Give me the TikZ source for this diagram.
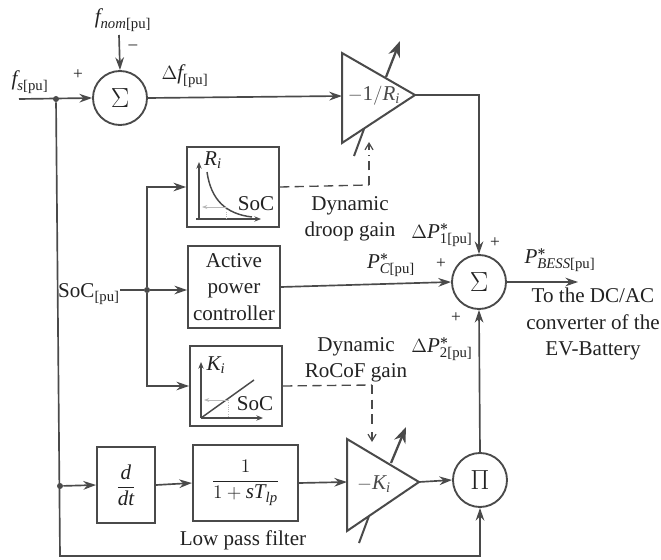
\documentclass[tikz,border=0pt]{standalone}
\usepackage{amsmath}
\usepackage{fontspec}
\setmainfont{Liberation Serif}
\usetikzlibrary{arrows.meta,calc}
\definecolor{ln}{HTML}{4A4A4A}
\definecolor{tx}{HTML}{222222}
\newcommand{\vi}[1]{\textit{#1}}
\newcommand{\pu}{\text{[pu]}}
\tikzset{
 wire/.style={draw=ln,line width=1.25pt},
 flow/.style={wire,-{Stealth[length=9.5pt,width=6.5pt]}},
 gainarrow/.style={wire,line width=1.7pt,-{Stealth[length=12pt,width=9pt]}},
 dashwire/.style={draw=ln,line width=1pt,dash pattern=on 7pt off 4pt},
 openarrow/.style={-{Straight Barb[length=5pt,width=6pt]}},
 blockbox/.style={draw=ln,line width=1.4pt,inner sep=0pt,text=tx,align=center},
 sumnode/.style={draw=ln,line width=1.4pt,circle,minimum size=40.5pt,inner sep=0pt,text=tx,font=\fontsize{20}{22}\selectfont},
 lbl/.style={text=tx,inner sep=0pt,align=center,font=\fontsize{15.8}{19.6}\selectfont},
 sign/.style={text=tx,inner sep=0pt,font=\fontsize{13}{15}\selectfont},
 junction/.style={circle,fill=ln,inner sep=0pt,minimum size=4.5pt},
 mini/.style={draw=ln,line width=.9pt,-{Stealth[length=5pt,width=4pt]}},
 faint/.style={draw=gray!55,line width=.7pt},
}
\begin{document}
\begin{tikzpicture}[x=.75pt,y=-.75pt]
\useasboundingbox (0,0) rectangle (661,560);
% main nodes
\node[sumnode] (s1) at (120,98) {$\Sigma$};
\node[sumnode] (s2) at (479,282) {$\Sigma$};
\node[sumnode] (pi) at (480,480) {$\Pi$};
\node[blockbox,minimum width=69pt,minimum height=60pt] (rbox) at (233,187) {};
\node[blockbox,minimum width=69pt,minimum height=61.5pt,font=\fontsize{15.8}{19.6}\selectfont] (apc) at (234,287) {Active\\power\\controller};
\node[blockbox,minimum width=69pt,minimum height=60pt] (kbox) at (236,386) {};
\node[blockbox,minimum width=43.5pt,minimum height=57pt,font=\fontsize{15.8}{18}\selectfont] (ddt) at (126,485) {$\dfrac{\vi{d}}{\vi{dt}}$};
\node[blockbox,minimum width=79pt,minimum height=57pt,font=\fontsize{15.8}{18}\selectfont] (lpf) at (245.5,483) {$\dfrac{1}{1+\vi{s}\vi{T}_{\vi{lp}}}$};
% triangles
\coordinate (t1a) at (342,53); \coordinate (t1b) at (342,143); \coordinate (t1c) at (415,95);
\coordinate (t1in) at (342,96);
\draw[wire,line width=1.5pt,line join=miter] (t1a)--(t1c)--(t1b)--cycle;
\coordinate (t2a) at (347,439); \coordinate (t2b) at (347,531); \coordinate (t2c) at (419,482);
\coordinate (t2in) at (347,482);
\draw[wire,line width=1.5pt,line join=miter] (t2a)--(t2c)--(t2b)--cycle;
\node[lbl,text=ln] (t1l) at (374,96) {$-\text{1}/\vi{R}_{\vi{i}}$};
\node[lbl,text=ln] (t2l) at (374,484) {$-\vi{K}_{\vi{i}}$};
% adjustable gain arrows
\coordinate (a1s) at (386,77); \coordinate (a1e) at (400,41);
\coordinate (b1s) at (354,156); \coordinate (b1e) at (364,129);
\draw[gainarrow] (a1s)--(a1e);
\draw[wire,line width=1.5pt] (b1s)--(b1e);
\coordinate (a2s) at (391,463); \coordinate (a2e) at (406,427);
\coordinate (b2s) at (359,543); \coordinate (b2e) at (369,516);
\draw[gainarrow] (a2s)--(a2e);
\draw[wire,line width=1.5pt] (b2s)--(b2e);
% free ends and junctions
\coordinate (fsin) at (19,99);
\node[junction] (j1) at (56,99) {};
\node[junction] (j2) at (60,486) {};
\node[junction] (j3) at (147,290) {};
\coordinate (socout) at (120,290);
\coordinate (fnomtop) at (119,35);
\coordinate (out) at (578,282);
\coordinate (bot) at (60,556);
% frequency path
\draw[flow] (fnomtop)--(s1.north);
\draw[flow] (fsin)--(s1.west);
\draw[flow] (s1.east)--(t1in);
\draw[flow] (t1c)-|(s2.north);
% SoC
\draw[wire] (socout)--(j3);
\draw[flow] (j3)--(apc.west|-j3);
\draw[flow] (j3)|-(rbox.west);
\draw[flow] (j3)|-(kbox.west);
\draw[flow] (apc.east)--(s2.west);
\draw[flow] (s2.east)--(out);
% lower path
\draw[flow] (j1)--(bot)-|(pi.south);
\draw[flow] (j2)--(ddt.west);
\draw[flow] (ddt.east)--(lpf.west);
\draw[flow] (lpf.east)--(t2in);
\draw[flow] (t2c)--(pi.west);
\draw[flow] (pi.north)--(s2.south);
% dashed
\coordinate (d1) at (369,185); \coordinate (d1e) at (369,142);
\coordinate (d2) at (372,385); \coordinate (d2e) at (372,442);
\draw[dashwire] (rbox.east)--(d1);
\draw[dashwire] (d1)--(369,155);
\draw[draw=ln,line width=.9pt,openarrow] (369,150)--(d1e);
\draw[dashwire] (kbox.east)--(d2);
\draw[dashwire] (d2)--(372,428);
\draw[draw=ln,line width=.9pt,openarrow] (372,432)--(d2e);
% mini plot R
\coordinate (ro) at (199,220);
\draw[mini] (ro)--(199,162);
\draw[mini] (196,219)--(261,219);
\draw[draw=ln,line width=1.1pt] (207,172) .. controls (211,200) and (226,214) .. (252,217);
\draw[faint,-{Stealth[length=4pt,width=3pt]}] (226,207)--(202,207);
\draw[faint,densely dotted] (226,207)--(226,219);
\node[lbl] (rl) at (213,160) {$\vi{R}_{\vi{i}}$};
\node[lbl] (rs) at (256,204) {SoC};
% mini plot K
\coordinate (ko) at (201,418);
\draw[mini] (ko)--(201,362);
\draw[mini] (ko)--(263,418);
\draw[draw=ln,line width=1.1pt] (ko)--(254,380);
\draw[faint,-{Stealth[length=4pt,width=3pt]}] (228,400)--(204,400);
\draw[faint,densely dotted] (228,400)--(228,418);
\node[lbl] (kl) at (216,365) {$\vi{K}_{\vi{i}}$};
\node[lbl] (ks) at (255,404) {SoC};
% labels
\node[lbl] (l1) at (123,20) {$\vi{f}_{\vi{nom}\pu}$};
\node[lbl] (l2) at (30,82) {$\vi{f}_{\vi{s}\pu}$};
\node[lbl] (l3) at (185,76) {$\Delta\vi{f}_{\pu}$};
\node[lbl] (l4) at (89,294) {SoC$_{\pu}$};
\node[lbl] (l5) at (350,219) {Dynamic\\droop gain};
\node[lbl] (l6) at (356,360) {Dynamic\\RoCoF gain};
\node[lbl] (l7) at (391,265) {$\vi{P}^{\boldsymbol{*}}_{\vi{C}\pu}$};
\node[lbl] (l8) at (442,235) {$\Delta\vi{P}^{\boldsymbol{*}}_{\text{1}\pu}$};
\node[lbl] (l9) at (442,349) {$\Delta\vi{P}^{\boldsymbol{*}}_{\text{2}\pu}$};
\node[lbl] (l10) at (560,260) {$\vi{P}^{\boldsymbol{*}}_{\vi{BESS}\pu}$};
\node[lbl] (l11) at (593,324) {To the DC/AC\\converter of the\\EV-Battery};
\node[lbl] (l12) at (243,540) {Low pass filter};
\node[sign] (p1) at (78,75) {+};
\node[sign] (m1) at (133,47) {--};
\node[sign] (p2) at (441,264) {+};
\node[sign] (p3) at (495,243) {+};
\node[sign] (p4) at (456,318) {+};
\end{tikzpicture}
\end{document}
